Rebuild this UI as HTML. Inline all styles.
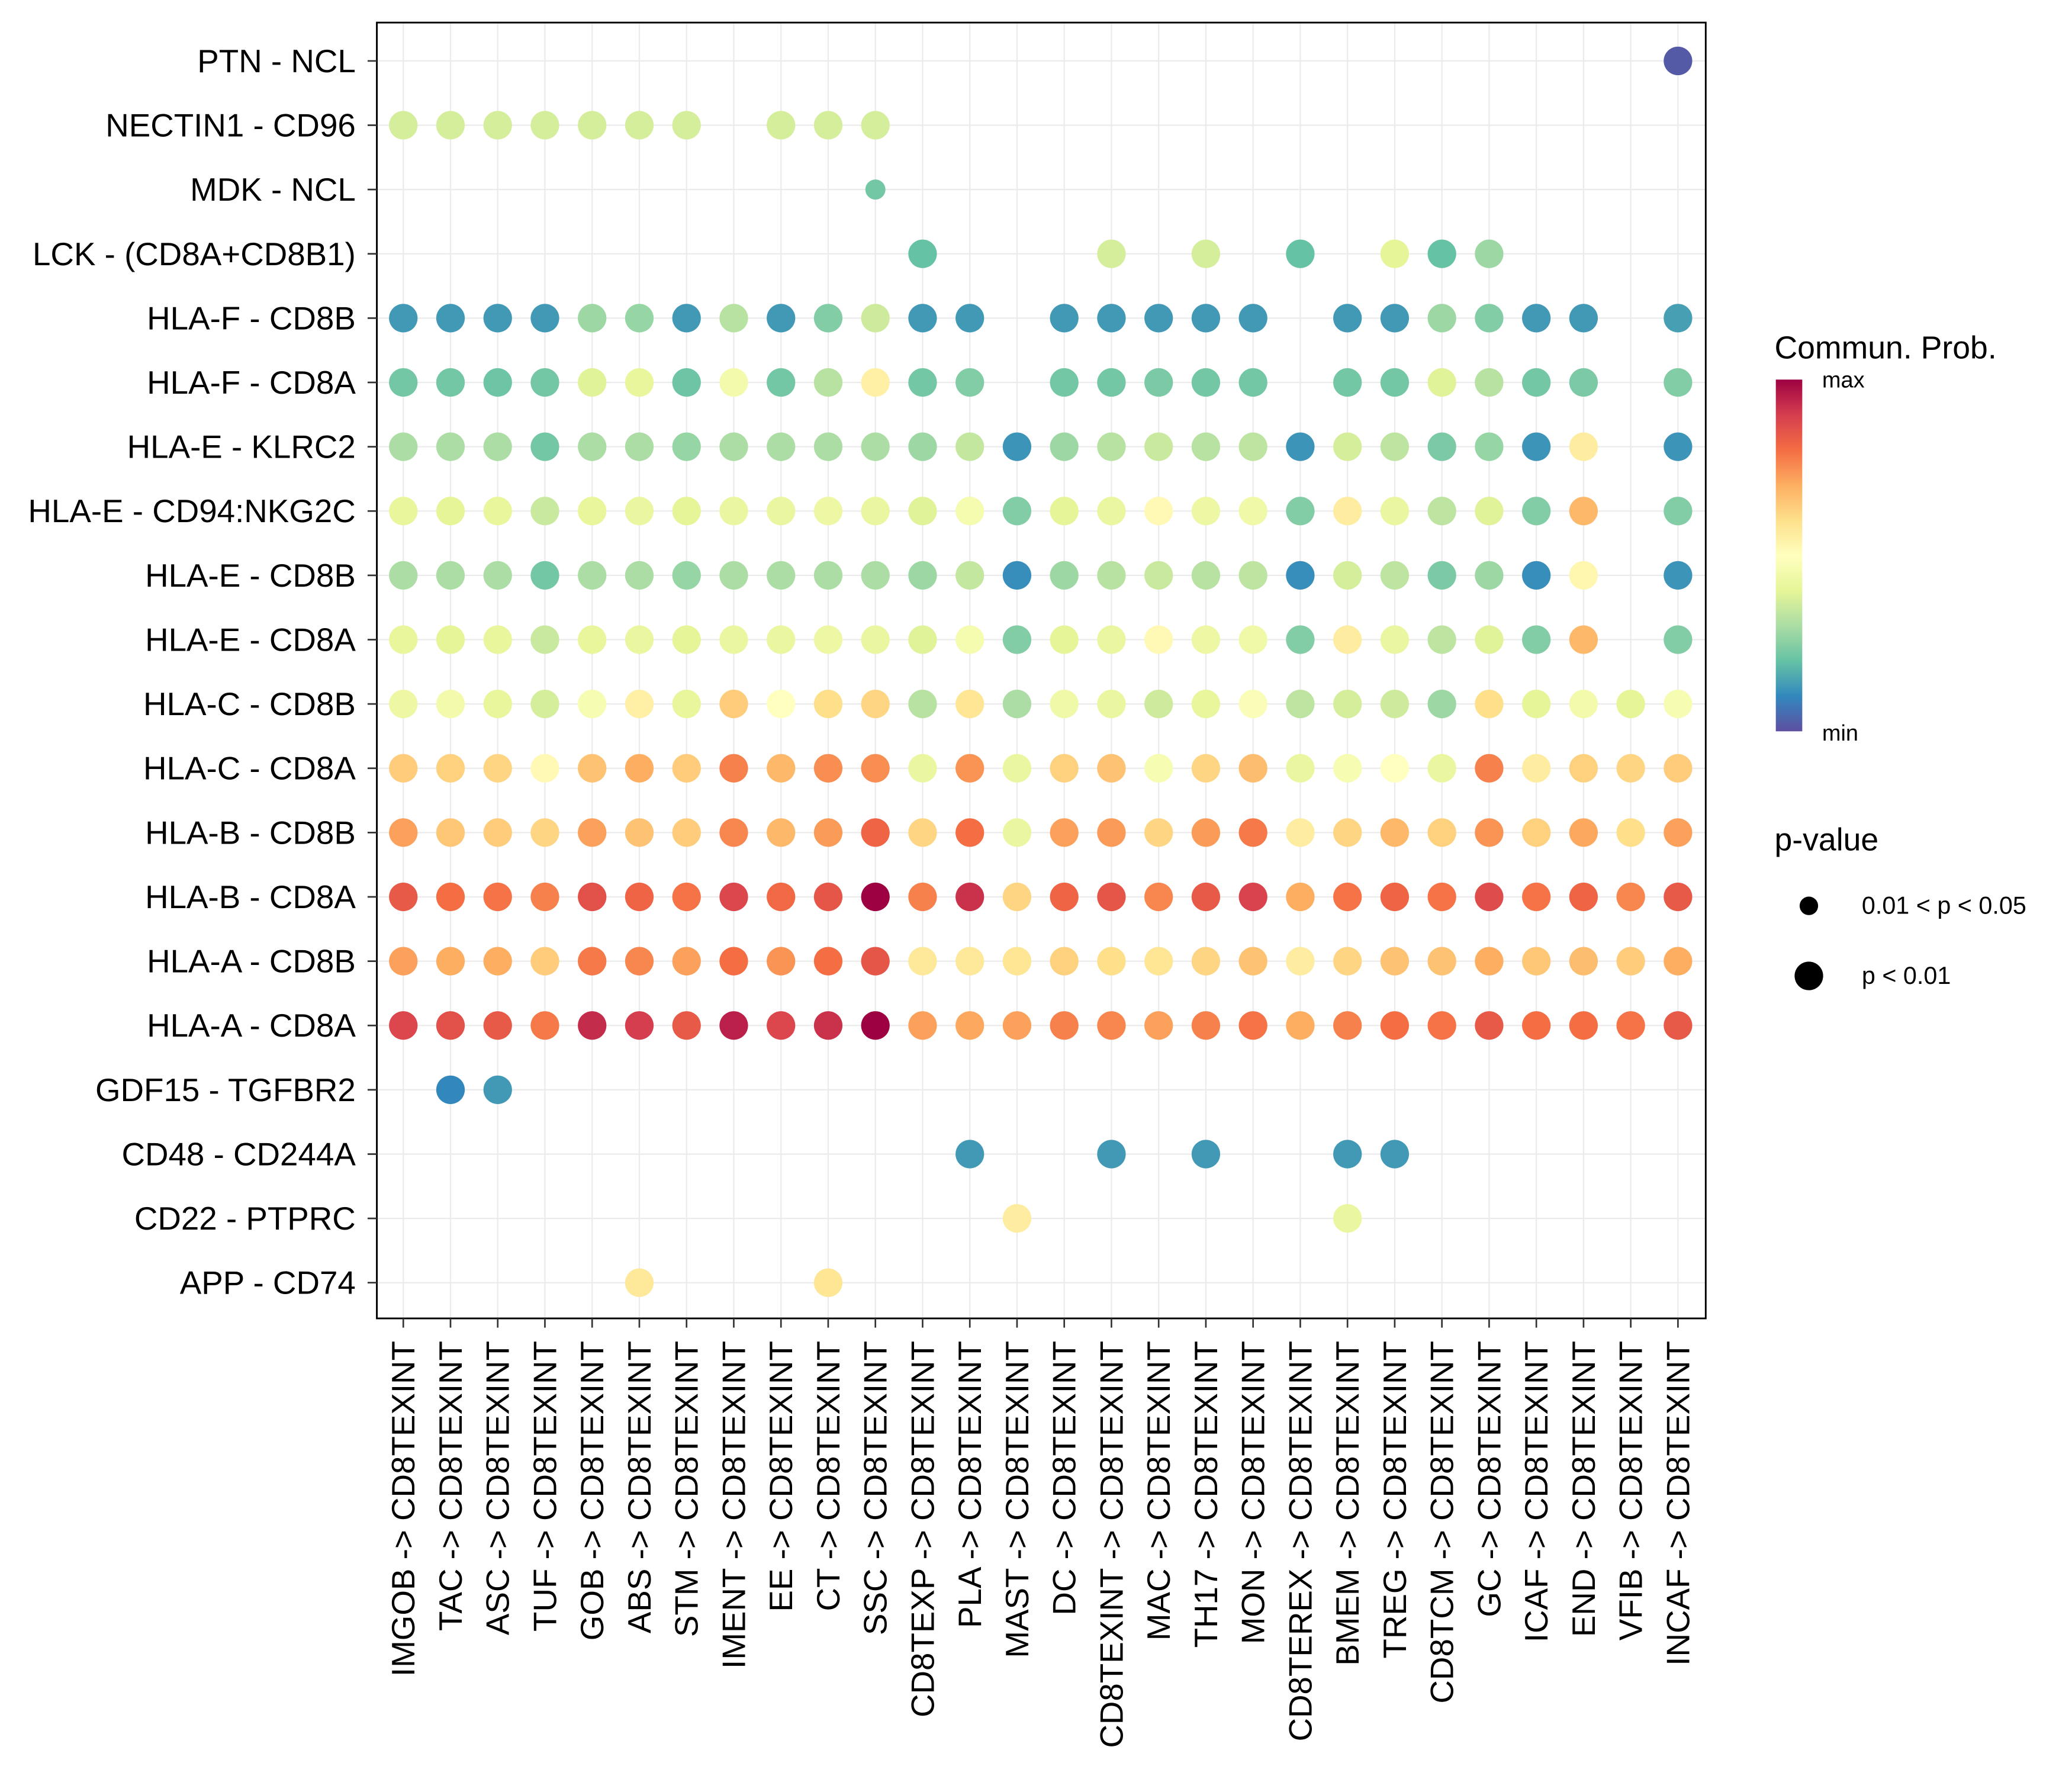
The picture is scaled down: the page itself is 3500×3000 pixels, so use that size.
<!DOCTYPE html>
<html><head><meta charset="utf-8"><style>
html,body{margin:0;padding:0;background:#fff;}
svg{display:block;}
text{font-family:"Liberation Sans",sans-serif;fill:#000;}
</style></head><body>
<svg id="chart" width="3500" height="3000" viewBox="0 0 1567 1343" xmlns="http://www.w3.org/2000/svg">
<defs>
<linearGradient id="cbar" x1="0" y1="1" x2="0" y2="0">
<stop offset="0" stop-color="#5E4FA2"/><stop offset="0.1" stop-color="#3288BD"/><stop offset="0.2" stop-color="#66C2A5"/><stop offset="0.3" stop-color="#ABDDA4"/><stop offset="0.4" stop-color="#E6F598"/><stop offset="0.5" stop-color="#FFFFBF"/><stop offset="0.6" stop-color="#FEE08B"/><stop offset="0.7" stop-color="#FDAE61"/><stop offset="0.8" stop-color="#F46D43"/><stop offset="0.9" stop-color="#D53E4F"/><stop offset="1" stop-color="#9E0142"/>
</linearGradient>
</defs>
<g id="grid"></g>
<g id="dots"></g>
<rect x="285" y="17" width="1005" height="980" fill="none" stroke="#000" stroke-width="1.3"/>
<g id="ylabels"></g>
<g id="xlabels"></g>
<g>
<text x="1342" y="271" font-size="24">Commun. Prob.</text>
<rect x="1343" y="287" width="20" height="266" fill="url(#cbar)"/>
<text x="1378" y="293" font-size="17">max</text>
<text x="1378" y="560" font-size="17">min</text>
</g>
<g>
<text x="1342" y="643" font-size="24">p-value</text>
<circle cx="1368" cy="685" r="7" fill="#000"/>
<text x="1408" y="691" font-size="18.5">0.01 &lt; p &lt; 0.05</text>
<circle cx="1368" cy="738" r="10.8" fill="#000"/>
<text x="1408" y="744" font-size="18.5">p &lt; 0.01</text>
</g>
</svg>
<script>
const sources = ["IMGOB","TAC","ASC","TUF","GOB","ABS","STM","IMENT","EE","CT","SSC","CD8TEXP","PLA","MAST","DC","CD8TEXINT","MAC","TH17","MON","CD8TEREX","BMEM","TREG","CD8TCM","GC","ICAF","END","VFIB","INCAF"];
const target = "CD8TEXINT";
const pairs = ["PTN - NCL","NECTIN1 - CD96","MDK - NCL","LCK - (CD8A+CD8B1)","HLA-F - CD8B","HLA-F - CD8A","HLA-E - KLRC2","HLA-E - CD94:NKG2C","HLA-E - CD8B","HLA-E - CD8A","HLA-C - CD8B","HLA-C - CD8A","HLA-B - CD8B","HLA-B - CD8A","HLA-A - CD8B","HLA-A - CD8A","GDF15 - TGFBR2","CD48 - CD244A","CD22 - PTPRC","APP - CD74"];
const _ = null;
const probs = [
[_,_,_,_,_,_,_,_,_,_,_,_,_,_,_,_,_,_,_,_,_,_,_,_,_,_,_,0.02],
[.37,.37,.37,.37,.37,.37,.37,_,.37,.37,.37,_,_,_,_,_,_,_,_,_,_,_,_,_,_,_,_,_],
[_,_,_,_,_,_,_,_,_,_,.22,_,_,_,_,_,_,_,_,_,_,_,_,_,_,_,_,_],
[_,_,_,_,_,_,_,_,_,_,_,.2,_,_,_,.37,_,.37,_,.2,_,.4,.2,.28,_,_,_,_],
[.13,.13,.13,.13,.28,.27,.13,.32,.13,.24,.36,.13,.13,_,.13,.13,.13,.13,.13,_,.13,.13,.28,.24,.13,.13,_,.14],
[.22,.22,.21,.22,.39,.41,.21,.45,.22,.32,.55,.22,.24,_,.22,.22,.23,.22,.22,_,.22,.22,.39,.32,.22,.23,_,.24],
[.3,.3,.3,.22,.3,.3,.27,.3,.3,.3,.3,.28,.34,.12,.28,.32,.35,.32,.33,.12,.37,.33,.23,.27,.12,.56,_,.12],
[.41,.4,.41,.35,.41,.42,.4,.42,.42,.43,.42,.39,.46,.24,.4,.42,.52,.43,.44,.24,.56,.42,.33,.39,.24,.68,_,.24],
[.3,.3,.3,.22,.3,.3,.27,.3,.3,.3,.3,.28,.34,.11,.28,.32,.35,.32,.33,.11,.37,.33,.23,.28,.11,.53,_,.12],
[.41,.4,.41,.35,.41,.42,.4,.42,.42,.43,.42,.39,.46,.24,.4,.42,.52,.43,.44,.24,.56,.42,.33,.39,.24,.68,_,.24],
[.43,.45,.41,.37,.47,.55,.41,.64,.5,.6,.62,.32,.58,.3,.44,.42,.36,.41,.48,.33,.37,.36,.28,.6,.4,.45,.4,.47],
[.64,.63,.62,.52,.66,.7,.64,.77,.68,.75,.75,.42,.74,.42,.63,.66,.47,.62,.67,.42,.47,.5,.42,.77,.56,.63,.62,.64],
[.72,.65,.64,.62,.72,.66,.64,.76,.68,.73,.82,.62,.8,.42,.72,.73,.62,.73,.78,.56,.62,.68,.63,.74,.63,.71,.6,.72],
[.84,.8,.79,.77,.86,.82,.79,.88,.81,.85,1,.77,.92,.62,.82,.85,.76,.84,.89,.7,.79,.82,.79,.87,.79,.82,.76,.84],
[.72,.7,.7,.64,.78,.76,.72,.8,.74,.8,.85,.57,.57,.58,.63,.6,.58,.62,.66,.56,.62,.66,.66,.7,.65,.67,.64,.7],
[.88,.86,.84,.78,.93,.9,.84,.95,.88,.92,1,.72,.71,.72,.77,.76,.72,.77,.79,.7,.77,.8,.79,.84,.8,.8,.79,.84],
[_,.1,.13,_,_,_,_,_,_,_,_,_,_,_,_,_,_,_,_,_,_,_,_,_,_,_,_,_],
[_,_,_,_,_,_,_,_,_,_,_,_,.13,_,_,.13,_,.13,_,_,.13,.13,_,_,_,_,_,_],
[_,_,_,_,_,_,_,_,_,_,_,_,_,.56,_,_,_,_,_,_,.42,_,_,_,_,_,_,_],
[_,_,_,_,_,.57,_,_,_,.58,_,_,_,_,_,_,_,_,_,_,_,_,_,_,_,_,_,_]
];
// significance: 0.01 < p < 0.05 cells listed as [row, col]; others p < 0.01
const weakSig = [[2,10]];
const stops = ["#5E4FA2","#3288BD","#66C2A5","#ABDDA4","#E6F598","#FFFFBF","#FEE08B","#FDAE61","#F46D43","#D53E4F","#9E0142"];
function hex(c){return [1,3,5].map(i=>parseInt(c.substr(i,2),16));}
function color(v){v=Math.max(0,Math.min(1,v));const t=v*10,i=Math.min(9,Math.floor(t)),f=t-i;const a=hex(stops[i]),b=hex(stops[i+1]);return "rgb("+a.map((x,k)=>Math.round(x+(b[k]-x)*f)).join(",")+")";}
const xScale = i => 305 + i*(1269-305)/(sources.length-1);
const yScale = j => 46 + j*(970-46)/(pairs.length-1);
const NS="http://www.w3.org/2000/svg";
function mk(t,attrs,parent){const e=document.createElementNS(NS,t);for(const k in attrs)e.setAttribute(k,attrs[k]);parent.appendChild(e);return e;}
const grid=document.getElementById('grid'),dots=document.getElementById('dots'),yl=document.getElementById('ylabels'),xl=document.getElementById('xlabels');
sources.forEach((s,i)=>{
  const x=xScale(i);
  const g=mk('line',{x1:x,x2:x,y1:17,y2:997,stroke:'#ebebeb','stroke-width':1},grid);
  
  
  const tk=mk('line',{x1:x,x2:x,y1:997,y2:1004,stroke:'#333','stroke-width':1.2},xl);
  
  
  const t=mk('text',{transform:`translate(${x+8.5},1014) rotate(-90)`,'text-anchor':'end','font-size':24.5},xl);
  t.textContent=s+" -> "+target;
  
  
});
pairs.forEach((p,j)=>{
  const y=yScale(j);
  const g=mk('line',{x1:285,x2:1290,y1:y,y2:y,stroke:'#ebebeb','stroke-width':1},grid);
  
  
  const tk=mk('line',{x1:278,x2:285,y1:y,y2:y,stroke:'#333','stroke-width':1.2},yl);
  
  
  const t=mk('text',{x:269,y:y+8.5,'text-anchor':'end','font-size':24.5},yl);
  t.textContent=p;
  
  
  probs[j].forEach((v,i)=>{
    if(v===null)return;
    const weak=weakSig.some(w=>w[0]===j&&w[1]===i);
    const c=mk('circle',{cx:xScale(i),cy:y,r:weak?7.6:10.8,fill:color(v)},dots);
    
    
  });
});
</script>
</body></html>
